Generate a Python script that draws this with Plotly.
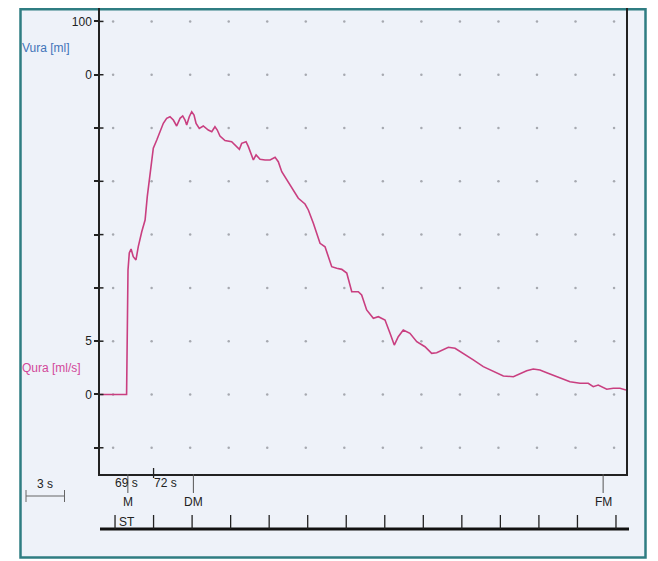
import numpy as np
import plotly.graph_objects as go

# ---------------- data ----------------
time_s = [67.85, 69.9, 70.01, 70.11, 70.25, 70.42, 70.63, 70.81, 71.08, 71.34, 71.51, 71.67,
          71.86, 71.98, 72.25, 72.50, 72.76, 73.02, 73.28, 73.54, 73.80, 74.06, 74.27, 74.45,
          74.58, 74.78, 74.97, 75.15, 75.31, 75.56, 75.87, 76.26, 76.53, 76.78, 76.96, 77.17,
          77.56, 78.08, 78.47, 78.68, 78.86, 79.20, 79.38, 79.77, 79.98, 80.29, 80.68, 81.07,
          81.46, 81.71, 81.98, 82.37, 82.76, 83.27, 83.79, 84.05, 84.44, 84.70, 84.96, 85.35,
          85.60, 85.87, 86.26, 86.65, 87.04, 87.43, 87.94, 88.20, 88.59, 89.11, 89.50, 90.02,
          90.41, 90.74, 91.05, 91.44, 91.96, 92.49, 93.13, 93.65, 94.04, 94.43, 94.95, 95.47,
          96.11, 96.89, 97.67, 98.45, 99.23, 100.01, 100.53, 101.05, 101.56, 102.08, 102.61,
          103.38, 104.42, 105.20, 105.84, 106.23, 106.62, 107.28, 107.79, 108.31, 108.78]
flow_mls = [0, 0, 11.68, 13.27, 13.65, 12.93, 12.62, 13.87, 15.27, 16.37, 18.56, 20.12,
            22.31, 23.10, 23.87, 24.65, 25.44, 25.91, 26.06, 25.75, 25.19, 25.91, 26.13, 25.75,
            25.28, 26.06, 26.53, 26.22, 25.44, 24.97, 25.19, 24.81, 24.65, 25.12, 24.81, 24.25,
            23.83, 23.72, 23.25, 23.00, 23.56, 23.72, 23.25, 22.00, 22.47, 22.06, 22.00, 22.00,
            22.25, 21.84, 20.90, 20.12, 19.34, 18.41, 17.87, 17.31, 16.06, 15.12, 14.18, 13.86,
            12.93, 11.99, 11.84, 11.74, 11.40, 9.64, 9.64, 9.33, 7.93, 7.15, 7.30, 6.99,
            5.74, 4.64, 5.42, 6.05, 5.74, 4.95, 4.48, 3.86, 3.92, 4.17, 4.43, 4.33,
            3.86, 3.24, 2.61, 2.14, 1.74, 1.67, 1.92, 2.23, 2.39, 2.30, 2.05,
            1.67, 1.20, 1.05, 1.05, 0.73, 0.89, 0.49, 0.58, 0.58, 0.42]

y_tick_vals = [-5, 0, 5, 10, 15, 20, 25, 30, 35]
y_tick_text = ["", "0", "5", "", "", "", "", "0", "100"]
ruler_times = list(range(69, 109, 3))
event_labels = ["M", "DM", "FM"]
event_times = [70.0, 75.1, 107.0]
time_labels = ["69 s", "72 s"]
time_label_pos = [69, 72]

# ---------------- layout helpers (page pixel -> paper coords) ----------------
OFF = 8                      # default page body margin
W, H = 650, 553
L, R, T, B = 92, 32, 0, 87
PW, PH = W - L - R, H - T - B
X_RANGE = [67.83, 108.78]
Y_RANGE = [-7.46, 36.26]


def px(xp):
    return (xp - OFF - L) / PW


def py(yp):
    return (H - B - (yp - OFF)) / PH


FONT = "Liberation Sans, Arial, sans-serif"
INK = "#222222"
CURVE = "#c93f80"
BG = "#eef2f9"
TEAL = "#2f7d82"

fig = go.Figure()

# dotted grid
gx, gy = np.meshgrid(ruler_times, y_tick_vals)
fig.add_trace(go.Scatter(x=gx.ravel() - 0.15, y=gy.ravel(), mode="markers",
                         marker=dict(size=2.5, color="#a6a9b0"), hoverinfo="skip",
                         showlegend=False))

# flow curve
fig.add_trace(go.Scatter(x=time_s, y=flow_mls, mode="lines",
                         line=dict(color=CURVE, width=1.6), showlegend=False))

shapes = []
# outer teal frame
shapes.append(dict(type="rect", xref="paper", yref="paper", x0=px(20.5), x1=px(645.5),
                   y0=py(557.5), y1=py(9.3), line=dict(color=TEAL, width=2.5),
                   fillcolor=BG, layer="below"))
# crossing y ticks (inner part)
for v in y_tick_vals:
    shapes.append(dict(type="line", xref="paper", yref="y", x0=0, x1=px(103.5), y0=v, y1=v,
                       line=dict(color=INK, width=1.5)))
# event marker lines
for t in event_times:
    shapes.append(dict(type="line", xref="x", yref="paper", x0=t, x1=t, y0=py(474), y1=py(493),
                       line=dict(color="#555555", width=1)))
# 72 s notch
shapes.append(dict(type="line", xref="x", yref="paper", x0=72, x1=72, y0=py(468), y1=py(478),
                   line=dict(color=INK, width=1.3)))
# ruler baseline and ticks
shapes.append(dict(type="line", xref="paper", yref="paper", x0=px(100), x1=px(629),
                   y0=py(529), y1=py(529), line=dict(color="#111111", width=3)))
for t in ruler_times:
    shapes.append(dict(type="line", xref="x", yref="paper", x0=t, x1=t, y0=py(515), y1=py(529),
                       line=dict(color=INK, width=1.3)))
# 3 s scale bar
shapes.append(dict(type="line", xref="paper", yref="paper", x0=px(26), x1=px(64.5),
                   y0=py(496), y1=py(496), line=dict(color="#666666", width=1)))
for xe in (26, 64.5):
    shapes.append(dict(type="line", xref="paper", yref="paper", x0=px(xe), x1=px(xe),
                       y0=py(490), y1=py(502), line=dict(color="#666666", width=1)))

ann = []
fs = 12
for lab, t in zip(time_labels, time_label_pos):
    ann.append(dict(text=lab, xref="x", yref="paper", x=t, y=py(483), xanchor="left",
                    yanchor="middle", showarrow=False, xshift=-2,
                    font=dict(family=FONT, size=fs, color=INK)))
for lab, t in zip(event_labels, event_times):
    ann.append(dict(text=lab, xref="x", yref="paper", x=t, y=py(502), xanchor="center",
                    yanchor="middle", showarrow=False,
                    font=dict(family=FONT, size=fs, color=INK)))
ann.append(dict(text="ST", xref="x", yref="paper", x=ruler_times[0], y=py(522), xanchor="left",
                yanchor="middle", showarrow=False, xshift=2,
                font=dict(family=FONT, size=fs, color=INK)))
ann.append(dict(text="3 s", xref="paper", yref="paper", x=px(45), y=py(484), xanchor="center",
                yanchor="middle", showarrow=False, font=dict(family=FONT, size=fs, color=INK)))
ann.append(dict(text="Vura [ml]", xref="paper", yref="paper", x=px(20), y=py(48),
                xanchor="left", yanchor="middle", showarrow=False,
                font=dict(family=FONT, size=fs, color="#3f74b8")))
ann.append(dict(text="Qura [ml/s]", xref="paper", yref="paper", x=px(20), y=py(368),
                xanchor="left", yanchor="middle", showarrow=False,
                font=dict(family=FONT, size=fs, color="#d2479a")))

fig.update_layout(
    width=W, height=H,
    margin=dict(l=L, r=R, t=T, b=B, pad=0),
    paper_bgcolor="white",
    plot_bgcolor="rgba(0,0,0,0)",
    shapes=shapes,
    annotations=ann,
    showlegend=False,
    xaxis=dict(range=X_RANGE, showline=True, linecolor=INK, linewidth=1.5, mirror=False,
               showgrid=False, zeroline=False, showticklabels=False, ticks=""),
    yaxis=dict(range=Y_RANGE, showline=True, linecolor=INK, linewidth=1.5, mirror=True,
               showgrid=False, zeroline=False, tickmode="array", tickvals=y_tick_vals,
               ticktext=y_tick_text, ticks="outside", ticklen=4, tickwidth=1.5,
               tickcolor=INK, tickfont=dict(family=FONT, size=fs, color=INK)),
)

fig.write_html("out.html")
